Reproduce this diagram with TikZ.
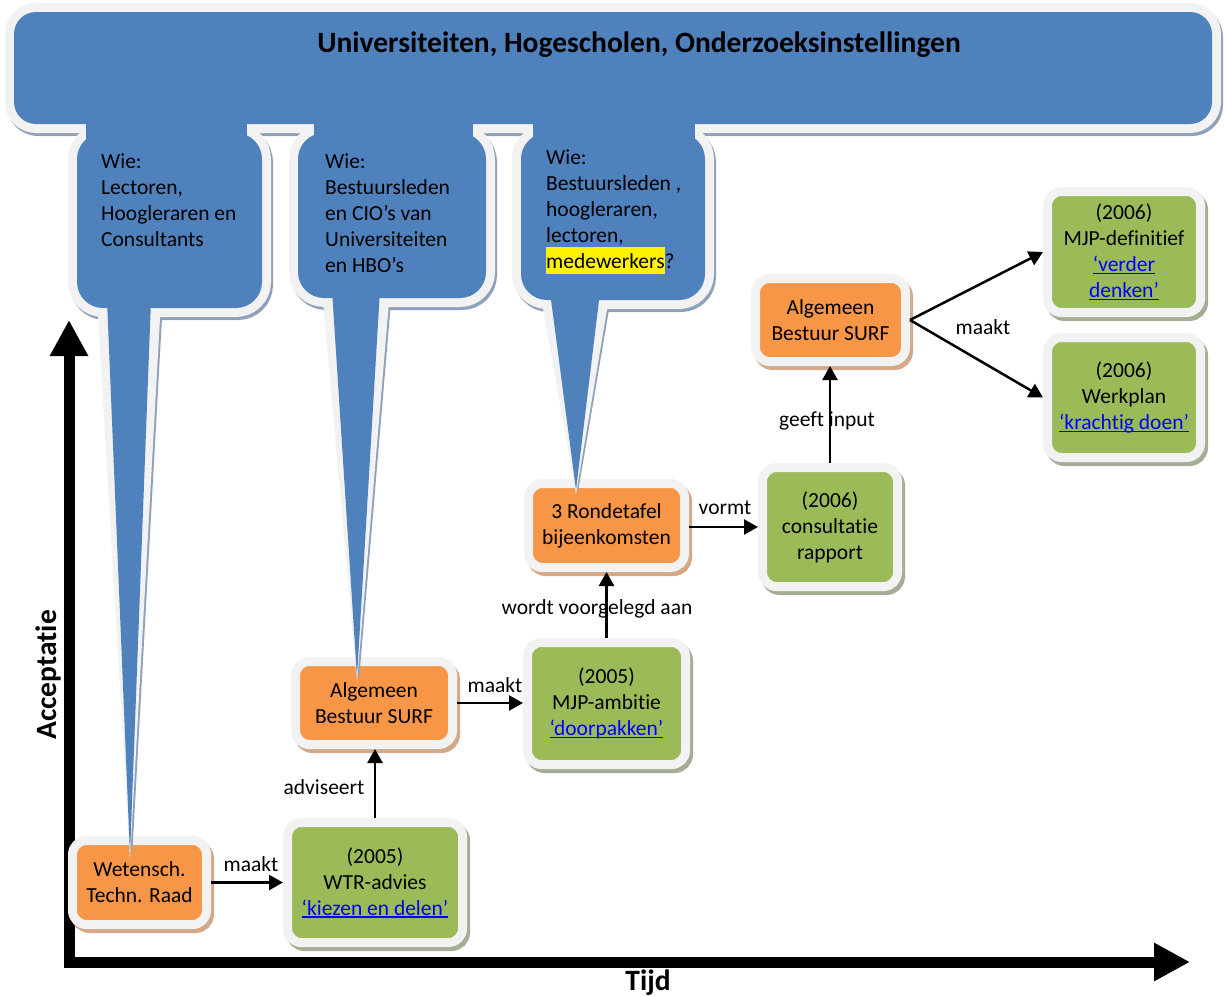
\documentclass[tikz,border=0pt]{standalone}
\usepackage{fontspec}
\setmainfont[Ligatures=NoCommon]{Carlito}
\usetikzlibrary{arrows.meta,shadows}
\definecolor{cblue}{HTML}{4F81BD}
\definecolor{cborder}{HTML}{F2F2F2}
\definecolor{cbshadow}{HTML}{8FA0BA}
\definecolor{corange}{HTML}{F79646}
\definecolor{coshadow}{HTML}{D5A888}
\definecolor{cgreen}{HTML}{9BBB59}
\definecolor{cgshadow}{HTML}{A4AE94}
\definecolor{clink}{HTML}{0000FF}
\newcommand{\lnk}[1]{{\color{clink}\setbox0\hbox{#1}\rlap{\rule[-2.6pt]{\wd0}{1.4pt}}\box0}}
\newcommand{\hlite}[1]{{\setlength{\fboxsep}{0pt}\colorbox{yellow}{\rule[-6pt]{0pt}{27pt}#1}}}
\tikzset{
 txt/.style={font=\fontsize{21.5}{26}\selectfont},
 boxbase/.style={txt, rounded corners=14pt, line width=9pt, draw=cborder, inner sep=0pt, align=center},
 obox/.style={boxbase, fill=corange, general shadow={fill=coshadow, draw=coshadow, line width=9pt, shadow xshift=3pt, shadow yshift=-4pt}},
 gbox/.style={boxbase, fill=cgreen, general shadow={fill=cgshadow, draw=cgshadow, line width=9pt, shadow xshift=3pt, shadow yshift=-4pt}},
 arr/.style={line width=2.5pt, -{Triangle[length=14pt,width=15pt]}},
 lbl/.style={txt, inner sep=0pt},
 ctext/.style={txt, anchor=north west, align=left, inner sep=0pt},
 axisline/.style={line width=11pt, line join=miter, {Triangle[length=36pt,width=36pt]}-{Triangle[length=36pt,width=36pt]}},
 bigbold/.style={font=\bfseries\fontsize{29.5}{34}\selectfont, inner sep=0pt},
}
\begin{document}
\begin{tikzpicture}[x=1pt,y=-1pt]
\useasboundingbox (0,0) rectangle (1226,996);
% axes
\coordinate (ytop) at (69,320);
\coordinate (orig) at (69,962);
\coordinate (xend) at (1190,962);
\draw[axisline] (ytop) -- (orig) -- (xend);
\node[bigbold, rotate=90] (ylab) at (48,675) {Acceptatie};
\node[bigbold] (xlab) at (648,983) {Tijd};
% boxes
\node[obox, minimum width=134pt, minimum height=84pt] (wtr) at (139.5,882.5) {Wetensch.\\Techn. Raad};
\node[gbox, minimum width=175pt, minimum height=120pt] (adv) at (375,882.5) {(2005)\\WTR-advies\\\lnk{‘kiezen en delen’}};
\node[obox, minimum width=157pt, minimum height=83pt] (abs1) at (374,703) {Algemeen\\Bestuur SURF};
\node[gbox, minimum width=158pt, minimum height=122pt] (amb) at (606.5,703.5) {(2005)\\MJP-ambitie\\\lnk{‘doorpakken’}};
\node[obox, minimum width=156pt, minimum height=84pt] (rt) at (606.5,525.5) {3 Rondetafel\\bijeenkomsten};
\node[gbox, minimum width=135pt, minimum height=119pt] (cons) at (830,527) {(2006)\\consultatie\\rapport};
\node[obox, minimum width=150pt, minimum height=83pt] (abs2) at (830.5,320) {Algemeen\\Bestuur SURF};
\node[gbox, minimum width=153pt, minimum height=121pt] (def) at (1124,252) {(2006)\\MJP-definitief\\\lnk{‘verder}\\\lnk{denken’}};
\node[gbox, minimum width=153pt, minimum height=120pt] (wp) at (1124,397.5) {(2006)\\Werkplan\\\lnk{‘krachtig doen’}};
% banner and callouts: shadows
\begin{scope}[shift={(2,3)}, fill=cbshadow, draw=cbshadow, line width=18pt, line join=round]
 \filldraw[rounded corners=22pt] (14,12) rectangle (1212,124);
 \filldraw[rounded corners=26pt] (77,133) rectangle (262,308);
 \filldraw[rounded corners=26pt] (298,133) rectangle (486,298);
 \filldraw[rounded corners=26pt] (521,133) rectangle (705,300);
\end{scope}
\begin{scope}[fill=cbshadow]
 \fill (99,300) -- (163,300) -- (132,858) -- cycle;
 \fill (324,290) -- (392,290) -- (359,680) -- cycle;
 \fill (542,292) -- (612,292) -- (578,492) -- cycle;
\end{scope}
% borders
\begin{scope}[fill=cborder, draw=cborder, line width=18pt, line join=round]
 \filldraw[rounded corners=22pt] (14,12) rectangle (1212,124);
 \filldraw[rounded corners=26pt] (77,133) rectangle (262,308);
 \filldraw[rounded corners=26pt] (298,133) rectangle (486,298);
 \filldraw[rounded corners=26pt] (521,133) rectangle (705,300);
\end{scope}
\begin{scope}[fill=cborder]
 \fill (97,300) -- (161,300) -- (130,860) -- cycle;
 \fill (322,290) -- (390,290) -- (357,682) -- cycle;
 \fill (540,292) -- (610,292) -- (576,494) -- cycle;
\end{scope}
% fills
\begin{scope}[fill=cblue]
 \fill[rounded corners=22pt] (14,12) rectangle (1212,124);
 \fill[rounded corners=26pt] (77,133) rectangle (262,308);
 \fill[rounded corners=26pt] (298,133) rectangle (486,298);
 \fill[rounded corners=26pt] (521,133) rectangle (705,300);
 \fill (86,112) rectangle (247,145);
 \fill (314,112) rectangle (473,145);
 \fill (533,112) rectangle (695,145);
 \fill (107,300) -- (151,300) -- (130,855) -- cycle;
 \fill (332,290) -- (380,290) -- (357,677) -- cycle;
 \fill (550,292) -- (600,292) -- (576,490) -- cycle;
\end{scope}
% texts in banner and callouts
\node[bigbold] (title) at (639,45) {Universiteiten, Hogescholen, Onderzoeksinstellingen};
\node[ctext] (c1) at (101,152) {\rule{0pt}{16pt}Wie:\\Lectoren,\\Hoogleraren en\\Consultants};
\node[ctext] (c2) at (325,152) {\rule{0pt}{16pt}Wie:\\Bestuursleden\\en CIO’s van\\Universiteiten\\en HBO’s};
\node[ctext] (c3) at (546,148) {\rule{0pt}{16pt}Wie:\\Bestuursleden ,\\hoogleraren,\\lectoren,\\\hlite{medewerkers}?};
% connectors
\draw[arr] (wtr.east) -- (adv.west);
\draw[arr] (adv.north) -- (adv.north |- abs1.south);
\draw[arr] (abs1.east) -- (abs1.east -| amb.west);
\draw[arr] (amb.north) -- (amb.north |- rt.south);
\draw[arr] (rt.east |- cons.west) -- (cons.west);
\draw[arr] (cons.north) -- (cons.north |- abs2.south);
\draw[arr] (abs2.east) -- (def.west);
\draw[arr] (abs2.east) -- (wp.west);
% labels
\node[lbl] (l1) at (251,864) {maakt};
\node[lbl] (l2) at (324,787) {adviseert};
\node[lbl] (l3) at (495,685) {maakt};
\node[lbl] (l4) at (597,609) {wordt voorgelegd aan};
\node[lbl] (l5) at (725,508) {vormt};
\node[lbl] (l6) at (827,421) {geeft input};
\node[lbl] (l7) at (983,327) {maakt};
\end{tikzpicture}
\end{document}
